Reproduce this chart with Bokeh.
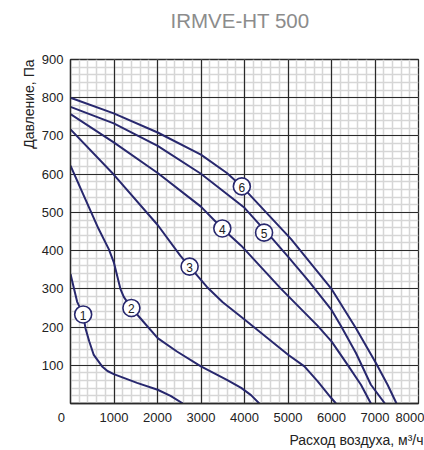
from bokeh.plotting import figure
from bokeh.models import FixedTicker, Range1d, Grid, Title
from bokeh.core.properties import value
from bokeh.embed import file_html
from bokeh.resources import INLINE

# ---- data (airflow m3/h, pressure Pa) ----
c1_x = [0, 153, 291, 344, 430, 535, 727, 850, 994, 1530, 2004, 2300, 2585]
c1_y = [339, 266, 233, 197, 163, 127, 97, 85, 77, 54, 36, 20, 0]
c2_x = [0, 300, 645, 880, 994, 1147, 1224, 1400, 1606, 2004, 2447, 2998, 3595, 3924, 4150, 4341]
c2_y = [622, 545, 457, 404, 370, 300, 279, 250, 223, 171, 136, 97, 62, 41, 22, 0]
c3_x = [0, 994, 2004, 2524, 2738, 3136, 3500, 4000, 5010, 5377, 5683, 5989, 6103]
c3_y = [717, 599, 467, 387, 358, 305, 265, 220, 127, 97, 58, 15, 0]
c4_x = [0, 994, 2004, 2998, 3490, 3924, 4841, 5683, 6004, 6371, 6677, 6906]
c4_y = [757, 683, 603, 515, 458, 413, 300, 203, 162, 101, 49, 0]
c5_x = [0, 994, 2004, 2998, 4000, 4450, 4650, 5010, 5491, 6004, 6218, 6562, 6906, 7228]
c5_y = [776, 733, 674, 601, 512, 455, 430, 383, 318, 244, 203, 132, 49, 0]
c6_x = [0, 994, 2004, 2998, 3595, 3939, 5071, 6004, 6562, 7021, 7289, 7495]
c6_y = [800, 759, 709, 651, 603, 568, 430, 299, 197, 106, 49, 0]

marker_x = [291, 1400, 2738, 3490, 4450, 3939]
marker_y = [233, 250, 358, 458, 447, 568]
marker_txt = ["1", "2", "3", "4", "5", "6"]

x_ticks = [0, 1000, 2000, 3000, 4000, 5000, 6000, 7000, 8000]
y_ticks = [0, 100, 200, 300, 400, 500, 600, 700, 800, 900]
x_minor = list(range(0, 8001, 200))
y_minor = list(range(0, 901, 20))

title_txt = "IRMVE-HT 500"
x_label = "Расход воздуха, м³/ч"
y_label = "Давление, Па"

NAVY = "#28286e"
FONT = "Liberation Sans"

p = figure(width=424, height=450, output_backend="svg",
           toolbar_location=None, x_range=Range1d(0, 8000), y_range=Range1d(0, 900),
           min_border_left=70, min_border_right=6, min_border_top=59, min_border_bottom=45)
p.background_fill_color = "white"
p.border_fill_color = "white"
p.outline_line_color = "#2a2a2a"
p.outline_line_width = 1.3

# hide default title, use a spacer + main title in the top panel
p.title.text = ""
p.title.standoff = 0
p.title.text_font_size = "1px"
p.add_layout(Title(text="\u00a0", text_font_size="1px", standoff=25), "above")
p.add_layout(Title(text=title_txt, align="left", offset=100, text_font=FONT,
                   text_font_size="20.5px", text_font_style="normal",
                   text_color="#8c8c8c", standoff=0), "above")

p.add_layout(Title(text=y_label, align="right", text_font=FONT, text_font_size="14px",
                   text_font_style="normal", text_color="#222222", standoff=4), "left")
p.add_layout(Title(text=x_label, align="right", text_font=FONT, text_font_size="14px",
                   text_font_style="normal", text_color="#222222", standoff=5, offset=-5), "below")

xt = FixedTicker(ticks=x_ticks, minor_ticks=x_minor)
yt = FixedTicker(ticks=y_ticks, minor_ticks=y_minor)
p.xaxis.ticker = xt
p.yaxis.ticker = yt
p.xaxis.major_label_overrides = {0: "0\u00a0\u00a0\u00a0\u00a0\u00a0"}
p.yaxis.major_label_overrides = {0: ""}
for ax in (p.xaxis[0], p.yaxis[0]):
    ax.major_tick_out = 0
    ax.major_tick_in = 0
    ax.minor_tick_out = 0
    ax.minor_tick_in = 0
    ax.axis_line_color = "#2a2a2a"
    ax.axis_line_width = 1.3
    ax.major_label_text_font = FONT
    ax.major_label_text_font_size = "13px"
    ax.major_label_text_color = "#222222"
p.xaxis.major_label_standoff = 6
p.yaxis.major_label_standoff = 7

# minor grids first
for g in (p.xgrid[0], p.ygrid[0]):
    g.grid_line_color = None
    g.minor_grid_line_color = "#d6d6d6"
    g.minor_grid_line_width = 1.5
# then major grids on top
p.add_layout(Grid(dimension=0, ticker=xt, grid_line_color="#2a2a2a", grid_line_width=1.2), "center")
p.add_layout(Grid(dimension=1, ticker=yt, grid_line_color="#2a2a2a", grid_line_width=1.2), "center")

for xs, ys in [(c1_x, c1_y), (c2_x, c2_y), (c3_x, c3_y), (c4_x, c4_y), (c5_x, c5_y), (c6_x, c6_y)]:
    p.line(xs, ys, line_color=NAVY, line_width=2, line_join="round")

p.scatter(marker_x, marker_y, size=17, fill_color="white", line_color=NAVY, line_width=1.6)
p.text(marker_x, marker_y, text=marker_txt, text_align="center", text_baseline="middle",
       text_font=value(FONT), text_font_size="12px", text_color="#222222", y_offset=1)

open("out.html", "w").write(file_html(p, INLINE))
